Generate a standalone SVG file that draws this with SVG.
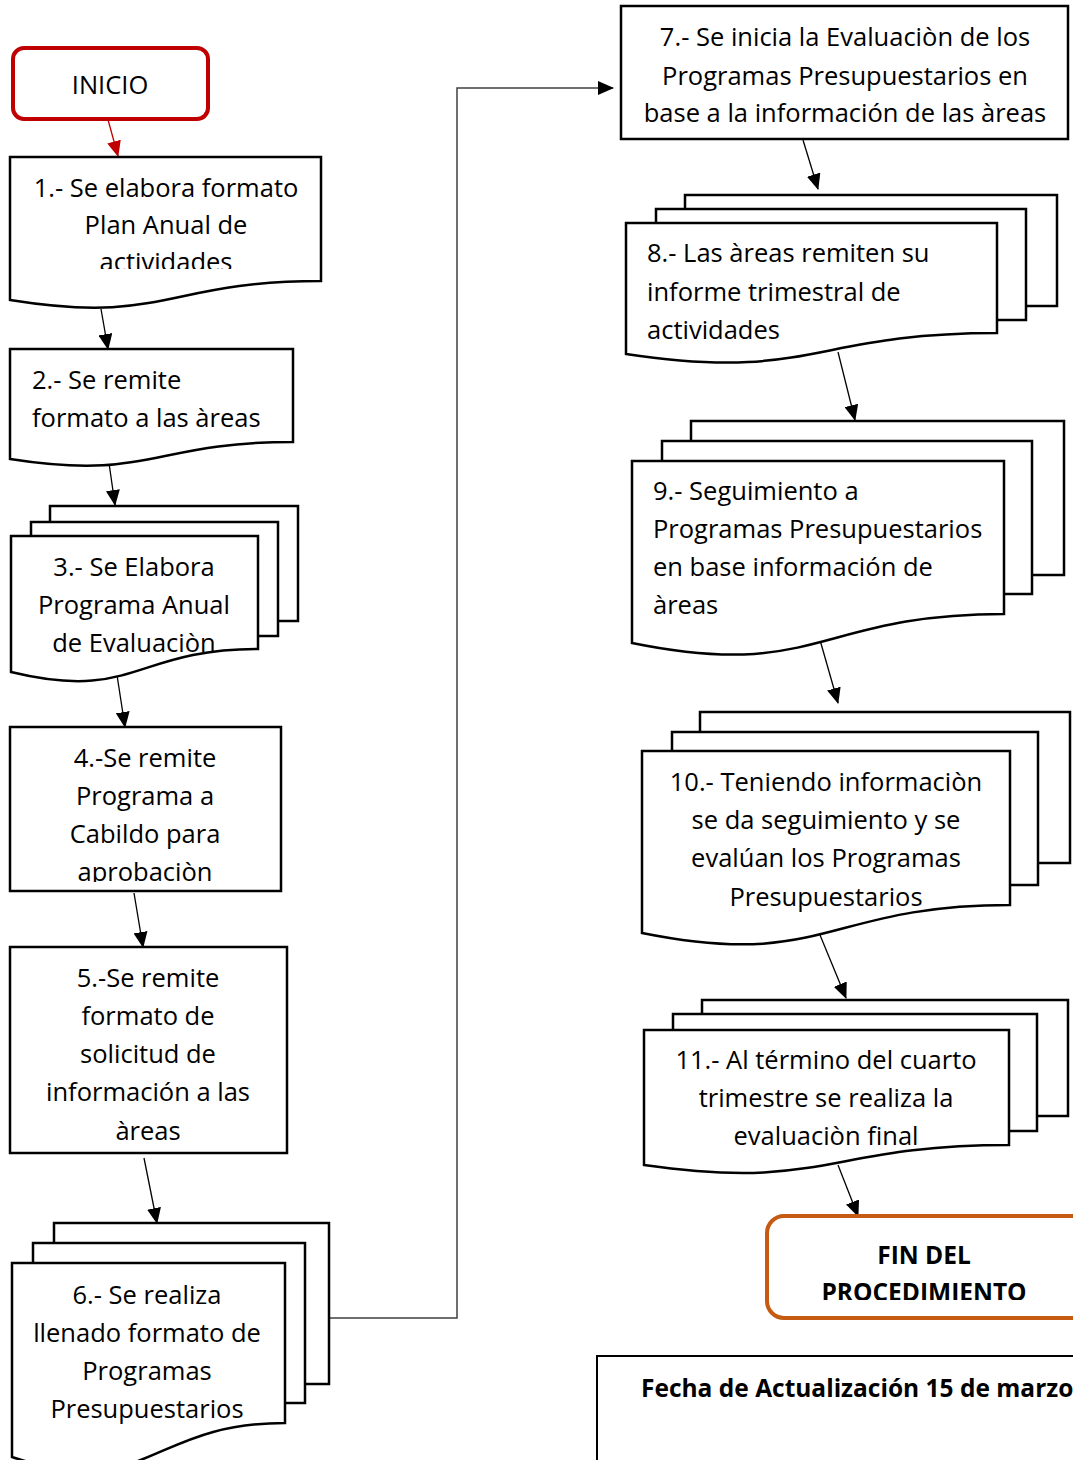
<svg xmlns="http://www.w3.org/2000/svg" width="1073" height="1460" viewBox="0 0 1073 1460">
<style>
.sh{fill:#fff;stroke:#000;stroke-width:2.5;stroke-linejoin:miter}
.t{font-family:"Open Sans",Lato,"Liberation Sans",sans-serif;font-size:25.5px;fill:#000}
.c{text-anchor:middle}
.b{font-weight:bold;font-size:24.5px}
.ln{fill:none;stroke:#000;stroke-width:1.3}
</style>
<defs>
<marker id="ah" markerUnits="userSpaceOnUse" markerWidth="16" markerHeight="14" refX="15" refY="7" orient="auto">
<path d="M0,0 L16,7 L0,14 Z" fill="#000"/>
</marker>
<marker id="ahr" markerUnits="userSpaceOnUse" markerWidth="16" markerHeight="14" refX="15" refY="7" orient="auto">
<path d="M0,0 L16,7 L0,14 Z" fill="#c00000"/>
</marker>
<clipPath id="c1"><rect x="10" y="157" width="311" height="112"/></clipPath>
<clipPath id="c4"><rect x="10" y="727" width="271" height="155"/></clipPath>
<clipPath id="cf"><rect x="767" y="1216" width="306" height="84"/></clipPath>
</defs>

<g id="connectors">
<line class="ln" x1="107" y1="116" x2="118" y2="156" style="stroke:#c00000" marker-end="url(#ahr)"/>
<line class="ln" x1="101" y1="309" x2="108" y2="349" marker-end="url(#ah)"/>
<line class="ln" x1="109" y1="463" x2="115" y2="505" marker-end="url(#ah)"/>
<line class="ln" x1="117" y1="675" x2="125" y2="727" marker-end="url(#ah)"/>
<line class="ln" x1="134" y1="893" x2="143" y2="947" marker-end="url(#ah)"/>
<line class="ln" x1="144" y1="1158" x2="157" y2="1223" marker-end="url(#ah)"/>
<polyline points="329,1318 457,1318 457,88 613,88" fill="none" stroke="#404040" stroke-width="1.5" marker-end="url(#ah)"/>
<line class="ln" x1="803" y1="140" x2="818" y2="189" marker-end="url(#ah)"/>
<line class="ln" x1="838" y1="352" x2="855" y2="420" marker-end="url(#ah)"/>
<line class="ln" x1="820" y1="640" x2="838" y2="703" marker-end="url(#ah)"/>
<line class="ln" x1="820" y1="935" x2="846" y2="998" marker-end="url(#ah)"/>
<line class="ln" x1="838" y1="1165" x2="858" y2="1216" marker-end="url(#ah)"/>
</g>

<g id="inicio">
<rect x="13" y="48" width="195" height="71" rx="11" fill="#fff" stroke="#c00000" stroke-width="4"/>
<text class="t c" x="110" y="94">INICIO</text>
</g>

<g id="n1">
<path class="sh" d="M10,157 H321 V281 C165.5,281 165.5,325 10,300 Z"/>
<g clip-path="url(#c1)">
<text class="t c" x="166" y="197">1.- Se elabora formato</text>
<text class="t c" x="166" y="234">Plan Anual de</text>
<text class="t c" x="166" y="271">actividades</text>
</g>
</g>

<g id="n2">
<path class="sh" d="M10,349 H293 V442 C151.5,442 151.5,481 10,459 Z"/>
<text class="t" x="32" y="389">2.- Se remite</text>
<text class="t" x="32" y="427">formato a las àreas</text>
</g>

<g id="n3">
<rect class="sh" x="50" y="506" width="248" height="115"/>
<rect class="sh" x="31" y="522" width="247" height="114"/>
<path class="sh" d="M11,536 H258 V649 C134.5,649 134.5,702 11,672 Z"/>
<text class="t c" x="134" y="576">3.- Se Elabora</text>
<text class="t c" x="134" y="614">Programa Anual</text>
<text class="t c" x="134" y="652">de Evaluaciòn</text>
</g>

<g id="n4">
<rect class="sh" x="10" y="727" width="271" height="164"/>
<g clip-path="url(#c4)">
<text class="t c" x="145" y="767">4.-Se remite</text>
<text class="t c" x="145" y="805">Programa a</text>
<text class="t c" x="145" y="843">Cabildo para</text>
<text class="t c" x="145" y="881">aprobaciòn</text>
</g>
</g>

<g id="n5">
<rect class="sh" x="10" y="947" width="277" height="206"/>
<text class="t c" x="148" y="987">5.-Se remite</text>
<text class="t c" x="148" y="1025">formato de</text>
<text class="t c" x="148" y="1063">solicitud de</text>
<text class="t c" x="148" y="1101">información a las</text>
<text class="t c" x="148" y="1140">àreas</text>
</g>

<g id="n6">
<rect class="sh" x="54" y="1223" width="275" height="161"/>
<rect class="sh" x="33" y="1243" width="272" height="160"/>
<path class="sh" d="M12,1263 H285 V1423 C148.5,1423 148.5,1502 12,1457 Z"/>
<text class="t c" x="147" y="1304">6.- Se realiza</text>
<text class="t c" x="147" y="1342">llenado formato de</text>
<text class="t c" x="147" y="1380">Programas</text>
<text class="t c" x="147" y="1418">Presupuestarios</text>
</g>

<g id="n7">
<rect class="sh" x="621" y="6" width="447" height="133"/>
<text class="t c" x="845" y="46">7.- Se inicia la Evaluaciòn de los</text>
<text class="t c" x="845" y="85">Programas Presupuestarios en</text>
<text class="t c" x="845" y="122">base a la información de las àreas</text>
</g>

<g id="n8">
<rect class="sh" x="685" y="195" width="372" height="111"/>
<rect class="sh" x="656" y="209" width="370" height="111"/>
<path class="sh" d="M626,223 H997 V333 C811.5,333 811.5,382 626,354 Z"/>
<text class="t" x="647" y="262">8.- Las àreas remiten su</text>
<text class="t" x="647" y="301">informe trimestral de</text>
<text class="t" x="647" y="339">actividades</text>
</g>

<g id="n9">
<rect class="sh" x="691" y="421" width="373" height="154"/>
<rect class="sh" x="662" y="441" width="370" height="153"/>
<path class="sh" d="M632,461 H1004 V614 C818,614 818,681 632,643 Z"/>
<text class="t" x="653" y="500">9.- Seguimiento a</text>
<text class="t" x="653" y="538">Programas Presupuestarios</text>
<text class="t" x="653" y="576">en base información de</text>
<text class="t" x="653" y="614">àreas</text>
</g>

<g id="n10">
<rect class="sh" x="700" y="712" width="370" height="151"/>
<rect class="sh" x="672" y="732" width="366" height="153"/>
<path class="sh" d="M642,751 H1010 V905 C826,905 826,970 642,933 Z"/>
<text class="t c" x="826" y="791">10.- Teniendo informaciòn</text>
<text class="t c" x="826" y="829">se da seguimiento y se</text>
<text class="t c" x="826" y="867">evalúan los Programas</text>
<text class="t c" x="826" y="906">Presupuestarios</text>
</g>

<g id="n11">
<rect class="sh" x="702" y="1000" width="366" height="116"/>
<rect class="sh" x="673" y="1014" width="364" height="117"/>
<path class="sh" d="M644,1030 H1009 V1145 C826.5,1145 826.5,1191 644,1165 Z"/>
<text class="t c" x="826" y="1069">11.- Al término del cuarto</text>
<text class="t c" x="826" y="1107">trimestre se realiza la</text>
<text class="t c" x="826" y="1145">evaluaciòn final</text>
</g>

<g id="fin">
<rect x="767" y="1216" width="330" height="102" rx="17" fill="#fff" stroke="#c55a11" stroke-width="4"/>
<g clip-path="url(#cf)">
<text class="t c b" x="924" y="1264">FIN DEL</text>
<text class="t c b" x="924" y="1301">PROCEDIMIENTO</text>
</g>
</g>

<g id="fecha">
<rect x="597" y="1356" width="520" height="160" fill="#fff" stroke="#000" stroke-width="2"/>
<text class="t b" x="641" y="1397">Fecha de Actualización 15 de marzo</text>
</g>
</svg>
